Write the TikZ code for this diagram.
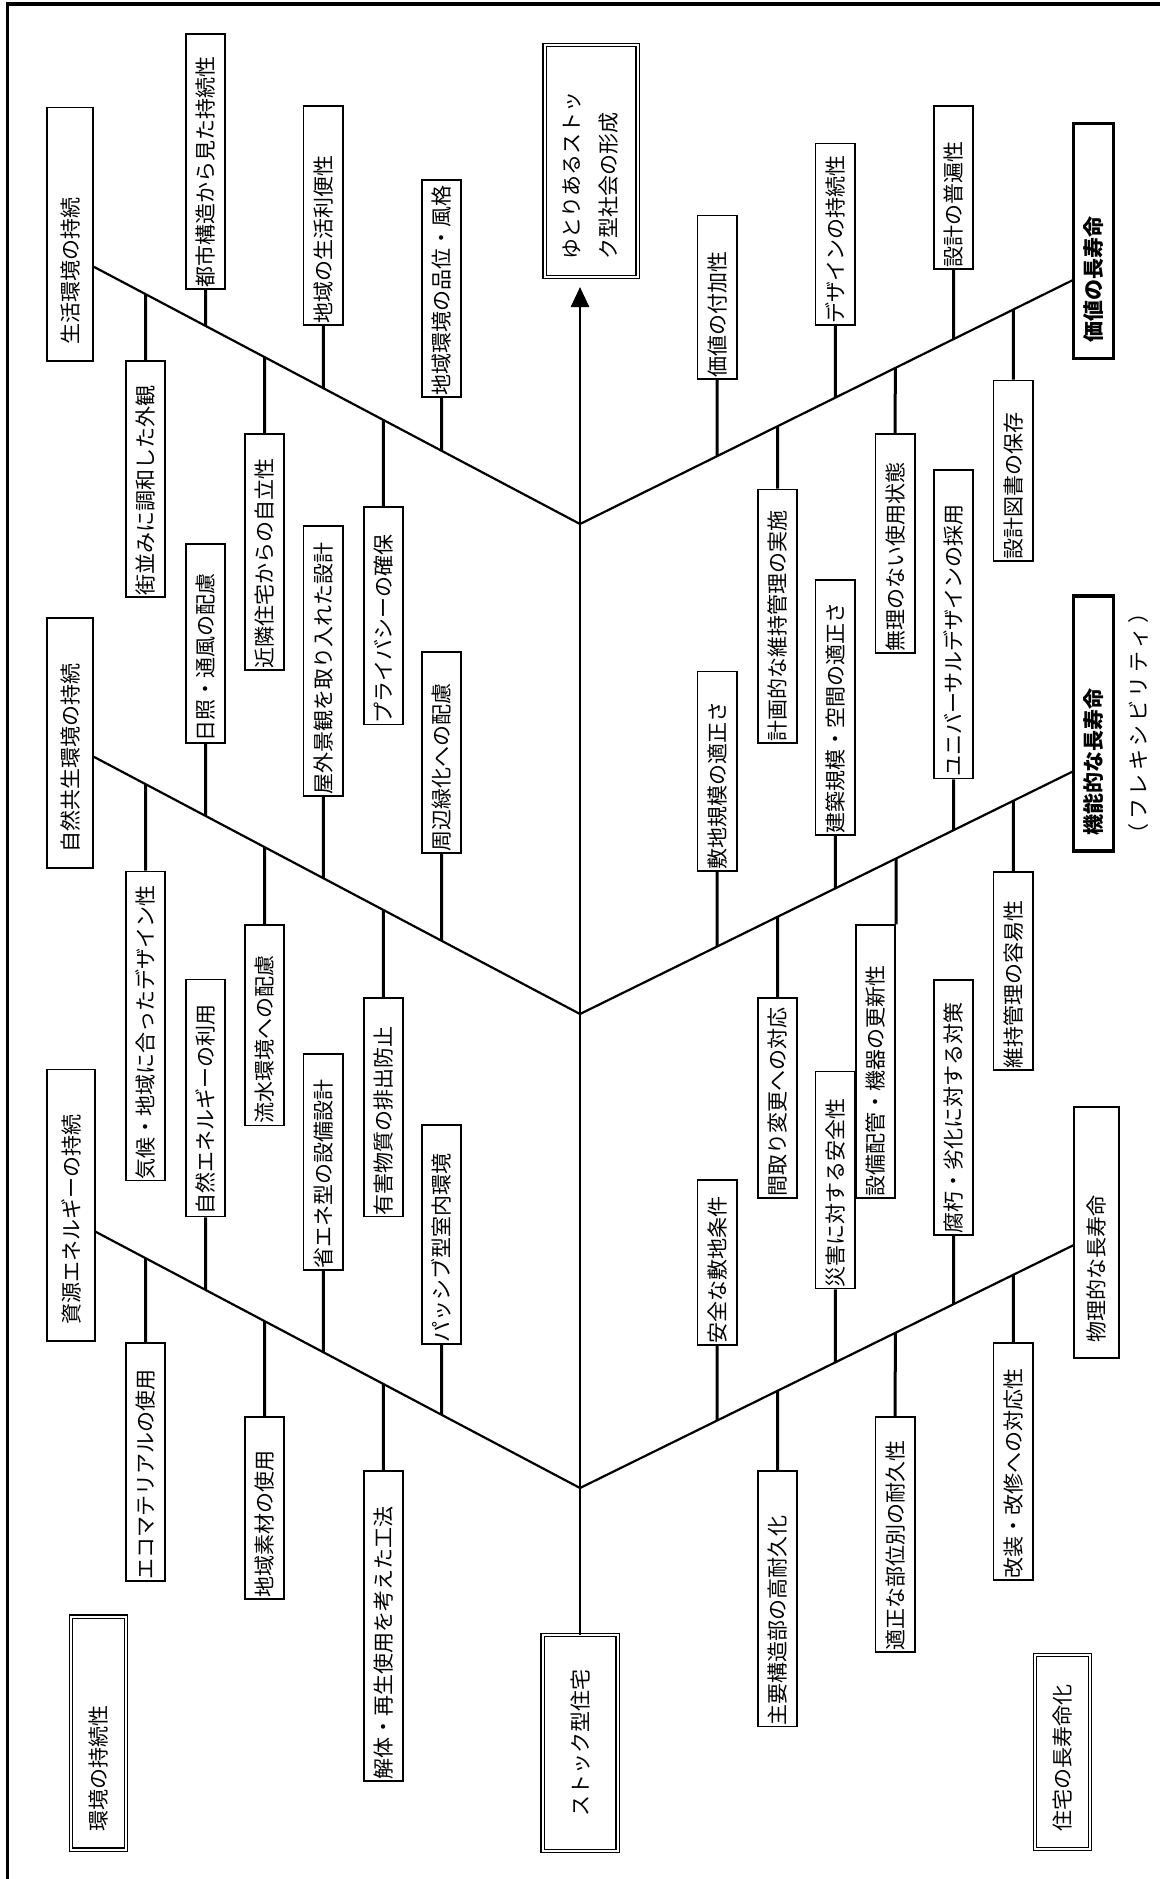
\documentclass[tikz,border=0pt]{standalone}
\usepackage{fontspec}
\newfontfamily\jp{Noto Sans CJK JP}
\usetikzlibrary{arrows.meta}
\tikzset{
  jpf/.style={font=\jp\fontsize{21pt}{25pt}\selectfont},
  sb/.style={draw, line width=1.8pt, rotate=90, inner xsep=1.5pt, inner ysep=0pt,
    minimum height=39.5pt, text width=#1-3pt, align=left, jpf},
  cat/.style={draw, line width=1.8pt, rotate=90, inner xsep=16pt, inner ysep=0pt,
    minimum height=46pt, text width=#1-32pt, align=left, jpf},
  catb/.style={cat=#1, line width=3.2pt, minimum height=39.5pt,
    font=\jp\bfseries\fontsize{21pt}{25pt}\selectfont},
  dbl/.style={draw, double, double distance=2pt, line width=1.2pt, rotate=90,
    inner xsep=18pt, inner ysep=0pt, text width=#1-36pt, align=left, jpf},
  bone/.style={line width=2.2pt},
  sub/.style={line width=3pt},
  spine/.style={line width=2.6pt, -{Triangle[length=20pt,width=18pt]}},
  frame/.style={line width=3.5pt}
}
\begin{document}
\begin{tikzpicture}[x=1pt,y=-1pt]
\useasboundingbox (0,0) rectangle (1159,1879);
\draw[frame] (7.5,1885) -- (7.5,4) -- (1165,4);

% spine coordinates
\coordinate (tip) at (580,287);
\coordinate (J1) at (580,524);
\coordinate (J2) at (580,1014);
\coordinate (J3) at (580,1488);
\coordinate (e1) at (93.3,266.5);
\coordinate (e2) at (93.3,756.5);
\coordinate (e3) at (95.35,1231.6);
\coordinate (f1) at (1073.8,279.6);
\coordinate (f2) at (1073.8,771);
\coordinate (f3) at (1073.8,1245);

% double boxes
\node[dbl=233pt, minimum height=55pt] (env) at (98.55,1733) {環境の持続性};
\node[dbl=216pt, minimum height=75pt, align=center] (stock) at (580,1743.25) {ストック型住宅};
\node[dbl=194pt, minimum height=55pt] (life) at (1062.5,1752.25) {住宅の長寿命化};
\node[dbl=232pt, minimum height=93pt, font=\jp\fontsize{21pt}{37pt}\selectfont] (goal) at (591,161.25) {ゆとりあるストッ\\ク型社会の形成};

% top-left group
\node[cat=253.1pt] (c1) at (70.3,234.05) {生活環境の持続};
\node[sb=255pt] (t1) at (205.5,161.1) {都市構造から見た持続性};
\node[sb=235.7pt] (t2) at (145.5,478.85) {街並みに調和した外観};
\node[sb=219pt] (t3) at (323.3,215.5) {地域の生活利便性};
\node[sb=236.2pt] (t4) at (264.5,551.9) {近隣住宅からの自立性};
\node[sb=216.6pt] (t5) at (441.5,288.3) {地域環境の品位・風格};
\node[sb=217.2pt] (t6) at (383.4,615.9) {プライバシーの確保};

% middle-left group
\node[cat=250.2pt] (c2) at (70.3,743.1) {自然共生環境の持続};
\node[sb=199.2pt] (m1) at (205.5,643.3) {日照・通風の配慮};
\node[sb=309pt] (m2) at (145.5,1026) {気候・地域に合ったデザイン性};
\node[sb=270pt] (m3) at (323.3,661) {屋外景観を取り入れた設計};
\node[sb=200.1pt] (m4) at (264.5,1025.35) {流水環境への配慮};
\node[sb=200.9pt] (m5) at (441.5,752.25) {周辺緑化への配慮};
\node[sb=218.5pt] (m6) at (383.4,1107.25) {有害物質の排出防止};

% bottom-left group
\node[cat=271.2pt, minimum height=48pt] (c3) at (71.35,1205) {資源エネルギーの持続};
\node[sb=236.9pt] (b1) at (205.5,1098) {自然エネルギーの利用};
\node[sb=238pt] (b2) at (145.5,1462) {エコマテリアルの使用};
\node[sb=216pt] (b3) at (323.3,1162) {省エネ型の設備設計};
\node[sb=181.6pt] (b4) at (264.5,1507.8) {地域素材の使用};
\node[sb=219.3pt] (b5) at (441.5,1234.65) {パッシブ型室内環境};
\node[sb=310.2pt] (b6) at (383.4,1625.9) {解体・再生使用を考えた工法};

% top-right group
\node[catb=234.8pt] (r1) at (1093.55,241.2) {価値の長寿命};
\node[sb=163.3pt] (u1) at (717.2,297.15) {価値の付加性};
\node[sb=253.5pt] (u2) at (777.6,616.25) {計画的な維持管理の実施};
\node[sb=181.5pt] (u3) at (835.3,234.25) {デザインの持続性};
\node[sb=219.2pt] (u4) at (895.2,543.4) {無理のない使用状態};
\node[sb=162.9pt] (u5) at (953.5,187.45) {設計の普遍性};
\node[sb=180.3pt] (u6) at (1013.3,470.55) {設計図書の保存};

% middle-right group
\node[catb=255pt] (r2) at (1093.55,723.5) {機能的な長寿命};
\node[rotate=90, inner sep=0pt, font=\jp\fontsize{21pt}{25pt}\selectfont] (flex) at (1139,723.5)
  {（\hspace{3.5pt}フ\hspace{3.5pt}レ\hspace{3.5pt}キ\hspace{3.5pt}シ\hspace{3.5pt}ビ\hspace{3.5pt}リ\hspace{3.5pt}テ\hspace{3.5pt}ィ\hspace{3.5pt}）};
\node[sb=199.6pt] (v1) at (717.2,771.2) {敷地規模の適正さ};
\node[sb=200pt] (v2) at (777.6,1098) {間取り変更への対応};
\node[sb=255.1pt] (v3) at (835.3,707.15) {建築規模・空間の適正さ};
\node[sb=272.7pt] (v4) at (875.5,1061.65) {設備配管・機器の更新性};
\node[sb=308.7pt] (v5) at (953.5,624.05) {ユニバーサルデザインの採用};
\node[sb=198pt] (v6) at (1013.3,971.3) {維持管理の容易性};

% bottom-right group
\node[cat=251pt, minimum height=45pt] (r3) at (1096.3,1232.5) {物理的な長寿命};
\node[sb=165.7pt] (w1) at (717.2,1262.45) {安全な敷地条件};
\node[sb=255.7pt] (w2) at (777.6,1598.65) {主要構造部の高耐久化};
\node[sb=217pt] (w3) at (835.3,1180) {災害に対する安全性};
\node[sb=235pt] (w4) at (895.2,1534.5) {適正な部位別の耐久性};
\node[sb=255.4pt] (w5) at (953.5,1107.3) {腐朽・劣化に対する対策};
\node[sb=237pt] (w6) at (1013.3,1461.5) {改装・改修への対応性};

% spine and bones
\draw[spine] (stock.east) -- (tip);
\draw[bone] (J1) -- (e1);
\draw[bone] (J2) -- (e2);
\draw[bone] (J3) -- (e3);
\draw[bone] (J1) -- (f1);
\draw[bone] (J2) -- (f2);
\draw[bone] (J3) -- (f3);

% sub-bones: boxes above the bone (bottom edge = local west)
\foreach \n in {t1,t3,t5}
  \draw[sub] (\n.west) -- (intersection of J1--e1 and \n.west--\n.east);
\foreach \n in {m1,m3,m5}
  \draw[sub] (\n.west) -- (intersection of J2--e2 and \n.west--\n.east);
\foreach \n in {b1,b3,b5}
  \draw[sub] (\n.west) -- (intersection of J3--e3 and \n.west--\n.east);
\foreach \n in {u1,u3,u5}
  \draw[sub] (\n.west) -- (intersection of J1--f1 and \n.west--\n.east);
\foreach \n in {v1,v3,v5}
  \draw[sub] (\n.west) -- (intersection of J2--f2 and \n.west--\n.east);
\foreach \n in {w1,w3,w5}
  \draw[sub] (\n.west) -- (intersection of J3--f3 and \n.west--\n.east);
% boxes below the bone (top edge = local east)
\foreach \n in {t2,t4,t6}
  \draw[sub] (\n.east) -- (intersection of J1--e1 and \n.west--\n.east);
\foreach \n in {m2,m4,m6}
  \draw[sub] (\n.east) -- (intersection of J2--e2 and \n.west--\n.east);
\foreach \n in {b2,b4,b6}
  \draw[sub] (\n.east) -- (intersection of J3--e3 and \n.west--\n.east);
\foreach \n in {u2,u4,u6}
  \draw[sub] (\n.east) -- (intersection of J1--f1 and \n.west--\n.east);
\foreach \n in {v2,v6}
  \draw[sub] (\n.east) -- (intersection of J2--f2 and \n.west--\n.east);
\draw[sub] (v4.south east) -- (intersection of J2--f2 and v4.south east--v4.south west);
\foreach \n in {w2,w4,w6}
  \draw[sub] (\n.east) -- (intersection of J3--f3 and \n.west--\n.east);
\end{tikzpicture}
\end{document}
